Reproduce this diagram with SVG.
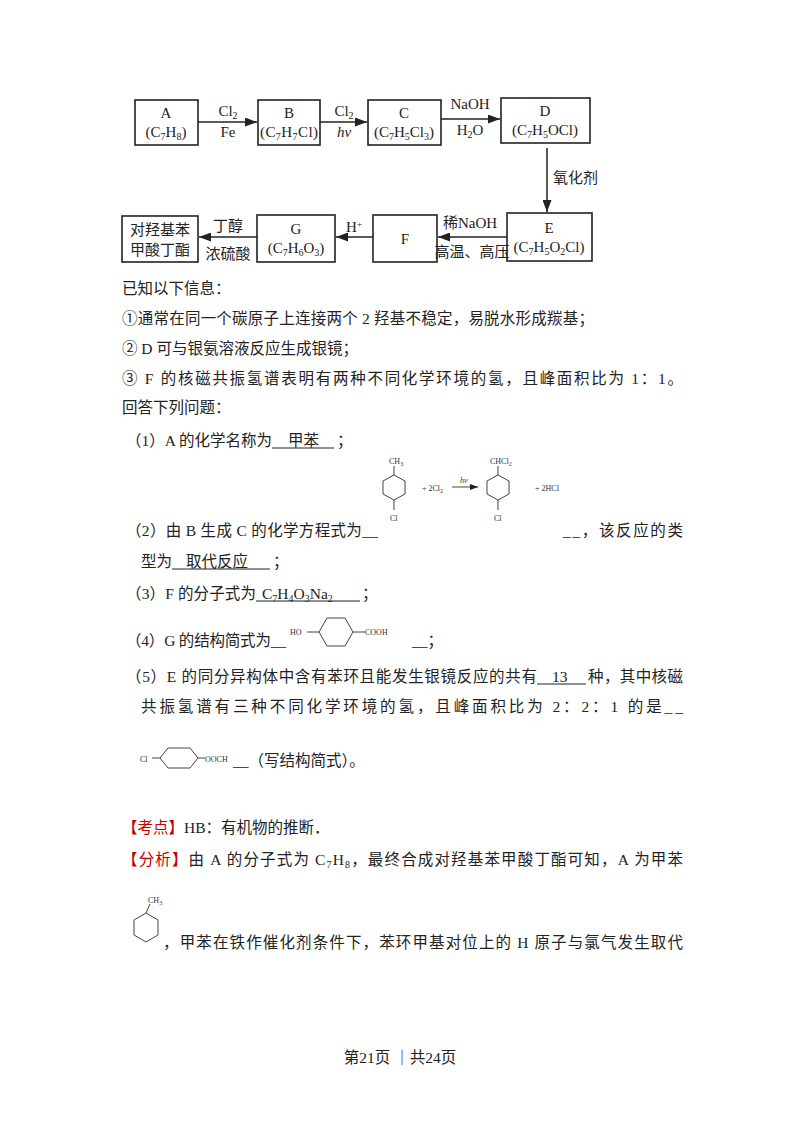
<svg xmlns="http://www.w3.org/2000/svg" width="800" height="1132" viewBox="0 0 800 1132">
<defs>
<marker id="ar" markerWidth="8" markerHeight="6" refX="8" refY="3" orient="auto"><path d="M0,0 L8,3 L0,6 Z" fill="#222"/></marker>
<style>
.bx{fill:#fff;stroke:#222;stroke-width:1.6}
.t{font-family:"Liberation Serif","Noto Sans CJK SC",serif;font-size:15px;fill:#222}
.c{text-anchor:middle}
.p{font-family:"Liberation Serif","Noto Sans CJK SC",serif;font-size:15.5px;fill:#222}
.s{font-family:"Liberation Serif",serif;font-size:8px;fill:#333}
.ln{stroke:#222;stroke-width:1.5;fill:none}
.r{stroke:#444;stroke-width:1;fill:none}
.u{stroke:#222;stroke-width:1}
.red{fill:#c00000}
</style>
</defs>
<rect width="800" height="1132" fill="#fff"/>
<g id="A"><rect class="bx" x="135" y="100" width="63" height="45"/><text class="t c" x="166" y="118">A</text><text class="t c" x="166" y="137">(C<tspan font-size="10" dy="3">7</tspan><tspan dy="-3">H</tspan><tspan font-size="10" dy="3">8</tspan><tspan dy="-3">)</tspan></text></g>
<g id="B"><rect class="bx" x="258" y="100" width="62" height="45"/><text class="t c" x="289" y="118">B</text><text class="t c" x="289" y="137" textLength="58">(C<tspan font-size="10" dy="3">7</tspan><tspan dy="-3">H</tspan><tspan font-size="10" dy="3">7</tspan><tspan dy="-3">Cl)</tspan></text></g>
<g id="C"><rect class="bx" x="368" y="100" width="73" height="45"/><text class="t c" x="404" y="118">C</text><text class="t c" x="404" y="137">(C<tspan font-size="10" dy="3">7</tspan><tspan dy="-3">H</tspan><tspan font-size="10" dy="3">5</tspan><tspan dy="-3">Cl</tspan><tspan font-size="10" dy="3">3</tspan><tspan dy="-3">)</tspan></text></g>
<g id="D"><rect class="bx" x="501" y="98" width="89" height="45"/><text class="t c" x="545" y="116">D</text><text class="t c" x="545" y="135">(C<tspan font-size="10" dy="3">7</tspan><tspan dy="-3">H</tspan><tspan font-size="10" dy="3">5</tspan><tspan dy="-3">OCl)</tspan></text></g>
<g id="E"><rect class="bx" x="507" y="213" width="85" height="48"/><text class="t c" x="549" y="233">E</text><text class="t c" x="549" y="252">(C<tspan font-size="10" dy="3">7</tspan><tspan dy="-3">H</tspan><tspan font-size="10" dy="3">5</tspan><tspan dy="-3">O</tspan><tspan font-size="10" dy="3">2</tspan><tspan dy="-3">Cl)</tspan></text></g>
<g id="F"><rect class="bx" x="373" y="215" width="64" height="47"/><text class="t c" x="405" y="244">F</text></g>
<g id="G"><rect class="bx" x="257" y="215" width="78" height="47"/><text class="t c" x="296" y="234">G</text><text class="t c" x="296" y="253">(C<tspan font-size="10" dy="3">7</tspan><tspan dy="-3">H</tspan><tspan font-size="10" dy="3">6</tspan><tspan dy="-3">O</tspan><tspan font-size="10" dy="3">3</tspan><tspan dy="-3">)</tspan></text></g>
<g id="P"><rect class="bx" x="122" y="216" width="76" height="46"/><text class="t c" x="160" y="235">对羟基苯</text><text class="t c" x="160" y="255">甲酸丁酯</text></g>
<g id="connectors">
<line class="ln" x1="198" y1="122" x2="257" y2="122" marker-end="url(#ar)"/>
<line class="ln" x1="320" y1="122" x2="367" y2="122" marker-end="url(#ar)"/>
<line class="ln" x1="441" y1="119" x2="500" y2="119" marker-end="url(#ar)"/>
<line class="ln" x1="547" y1="148" x2="547" y2="212" marker-end="url(#ar)"/>
<line class="ln" x1="507" y1="237" x2="438" y2="237" marker-end="url(#ar)"/>
<line class="ln" x1="373" y1="237" x2="336" y2="237" marker-end="url(#ar)"/>
<line class="ln" x1="257" y1="237" x2="199" y2="237" marker-end="url(#ar)"/>
<text class="t c" x="228" y="116">Cl<tspan font-size="10" dy="3">2</tspan></text><text class="t c" x="228" y="137">Fe</text>
<text class="t c" x="344" y="116">Cl<tspan font-size="10" dy="3">2</tspan></text><text class="t c" x="344" y="137" font-style="italic">hv</text>
<text class="t c" x="470" y="109">NaOH</text><text class="t c" x="470" y="135">H<tspan font-size="10" dy="3">2</tspan><tspan dy="-3">O</tspan></text>
<text class="t" x="553" y="183">氧化剂</text>
<text class="t c" x="470" y="228">稀NaOH</text><text class="t c" x="472" y="257">高温、高压</text>
<text class="t c" x="354" y="232">H<tspan font-size="9" dy="-5">+</tspan></text>
<text class="t c" x="228" y="231">丁醇</text><text class="t c" x="228" y="259">浓硫酸</text>
</g>
<text class="p" x="122" y="294">已知以下信息：</text>
<text class="p" x="122" y="324" textLength="472">①通常在同一个碳原子上连接两个 2 羟基不稳定，易脱水形成羰基；</text>
<text class="p" x="122" y="354" textLength="236">② D 可与银氨溶液反应生成银镜；</text>
<text class="p" x="122" y="384" textLength="561">③ F 的核磁共振氢谱表明有两种不同化学环境的氢，且峰面积比为 1：1。</text>
<text class="p" x="122" y="413">回答下列问题：</text>
<text class="p" x="126" y="446" textLength="146">（1）A 的化学名称为</text>
<text class="p" x="288" y="446">甲苯</text><text class="p" x="337" y="446">；</text>
<line class="u" x1="272" y1="448" x2="334" y2="448"/>
<g>
<polygon class="r" points="383,481 394,475 405,481 405,494 394,500 383,494"/>
<line class="r" x1="394" y1="475" x2="394" y2="466"/><line class="r" x1="394" y1="500" x2="394" y2="510"/>
<text class="s" x="389" y="464">CH<tspan font-size="6" dy="2">3</tspan></text><text class="s" x="390" y="521">Cl</text>
<text class="s" x="422" y="491">+ 2Cl<tspan font-size="6" dy="2">2</tspan></text>
<line class="r" x1="452" y1="487" x2="478" y2="487" marker-end="url(#ar)"/><text class="s" x="460" y="483" font-style="italic">hv</text>
<polygon class="r" points="487,481 498,475 509,481 509,494 498,500 487,494"/>
<line class="r" x1="498" y1="475" x2="498" y2="466"/><line class="r" x1="498" y1="500" x2="498" y2="510"/>
<text class="s" x="490" y="464">CHCl<tspan font-size="6" dy="2">2</tspan></text><text class="s" x="494" y="521">Cl</text>
<text class="s" x="535" y="491">+ 2HCl</text>
</g>
<text class="p" x="126" y="536" textLength="252">（2）由 B 生成 C 的化学方程式为__</text>
<text class="p" x="563" y="536" textLength="120">__，该反应的类</text>
<text class="p" x="141" y="567">型为</text><text class="p" x="186" y="567">取代反应</text><text class="p" x="273" y="567">；</text>
<line class="u" x1="172" y1="569" x2="270" y2="569"/>
<text class="p" x="126" y="599" textLength="130">（3）F 的分子式为</text>
<text class="p" x="262" y="599">C<tspan font-size="10" dy="3">7</tspan><tspan dy="-3">H</tspan><tspan font-size="10" dy="3">4</tspan><tspan dy="-3">O</tspan><tspan font-size="10" dy="3">3</tspan><tspan dy="-3">Na</tspan><tspan font-size="10" dy="3">2</tspan></text>
<text class="p" x="362" y="599">；</text>
<line class="u" x1="256" y1="601" x2="360" y2="601"/>
<text class="p" x="126" y="646" textLength="160">（4）G 的结构简式为__</text>
<g>
<text class="s" x="290" y="635" font-size="10">HO</text>
<line class="r" x1="307" y1="632" x2="319" y2="632"/>
<polygon class="r" points="319,632 327,618 345,618 353,632 345,646 327,646"/>
<line class="r" x1="353" y1="632" x2="365" y2="632"/>
<text class="s" x="365" y="635" font-size="10">COOH</text>
</g>
<text class="p" x="412" y="646">__；</text>
<text class="p" x="126" y="682" textLength="411">（5）E 的同分异构体中含有苯环且能发生银镜反应的共有</text>
<text class="p" x="552" y="682">13</text>
<text class="p" x="588" y="682" textLength="95">种，其中核磁</text>
<line class="u" x1="537" y1="684" x2="586" y2="684"/>
<text class="p" x="141" y="712" textLength="542">共振氢谱有三种不同化学环境的氢，且峰面积比为 2：2：1 的是__</text>
<g>
<text class="s" x="140" y="762" font-size="10">Cl</text>
<line class="r" x1="152" y1="758" x2="160" y2="758"/>
<polygon class="r" points="160,758 168,748 190,748 198,758 190,768 168,768"/>
<line class="r" x1="198" y1="758" x2="205" y2="758"/>
<text class="s" x="205" y="762" font-size="10">OOCH</text>
</g>
<text class="p" x="233" y="766">__（写结构简式）。</text>
<text class="p" x="122" y="833"><tspan class="red">【考点】</tspan>HB：有机物的推断．</text>
<text class="p" x="122" y="865" textLength="561"><tspan class="red">【分析】</tspan>由 A 的分子式为 C<tspan font-size="10" dy="3">7</tspan><tspan dy="-3">H</tspan><tspan font-size="10" dy="3">8</tspan><tspan dy="-3">，最终合成对羟基苯甲酸丁酯可知，A 为甲苯</tspan></text>
<g>
<polygon class="r" points="134,920 146,913 158,920 158,935 146,942 134,935"/>
<line class="r" x1="146" y1="913" x2="150" y2="904"/>
<text class="s" x="148" y="903">CH<tspan font-size="6" dy="2">3</tspan></text>
</g>
<text class="p" x="163" y="948" textLength="520">，甲苯在铁作催化剂条件下，苯环甲基对位上的 H 原子与氯气发生取代</text>
<text class="p" x="400" y="1063" text-anchor="middle" font-size="13">第21页 ｜共24页</text>
</svg>
